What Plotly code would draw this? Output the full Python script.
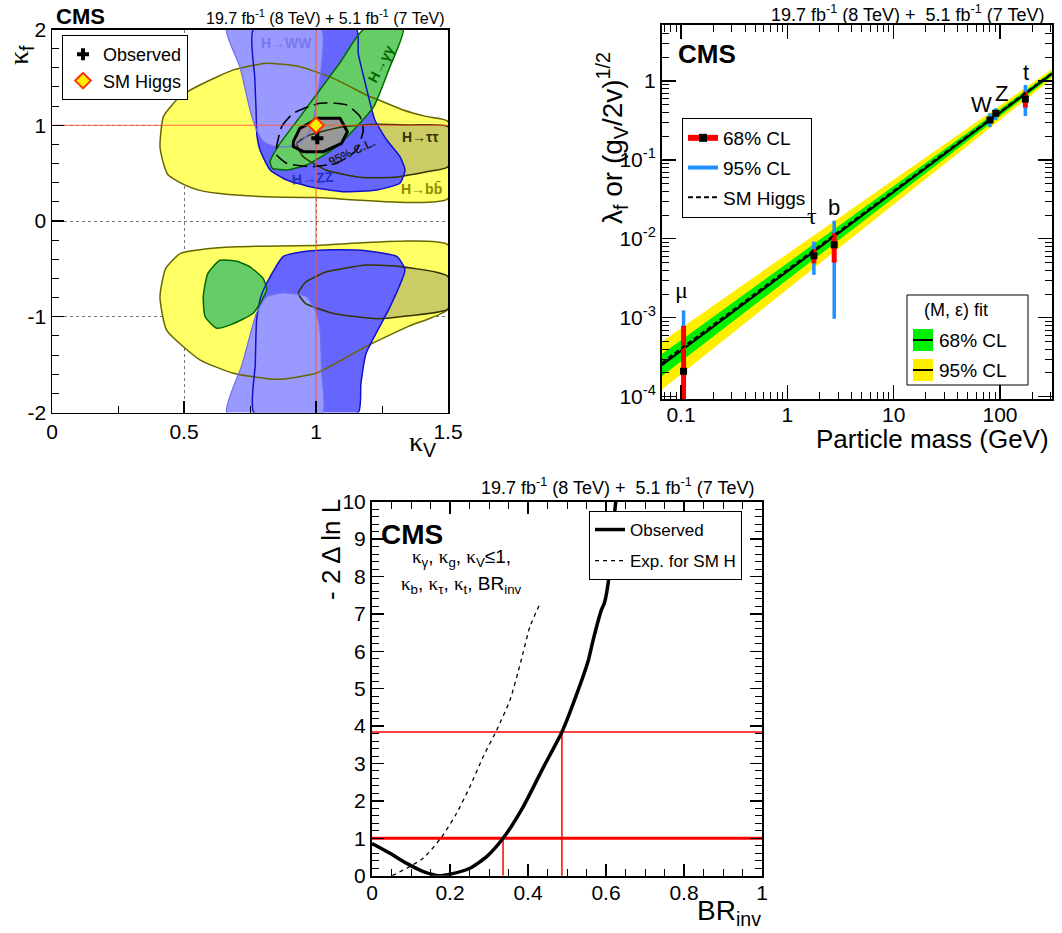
import plotly.graph_objects as go

W, H = 1062, 933
OFF = 0  # body margin removed via post_script
def fx(p): return (p - OFF) / W
def fy(p): return 1 - (p - OFF) / H

SANS = "Liberation Sans, Arial, Helvetica, sans-serif"
SERIF = "Liberation Serif, Times New Roman, serif"

# ================= Panel 1 data: (kappa_V, kappa_f) 68% CL regions =================
sm_kv, sm_kf = 1.0, 1.0
obs_kv, obs_kf = 1.005, 0.864

bb_up_kv = [1.5, 1.42, 1.33, 1.25, 1.19, 1.066, 0.94, 0.813, 0.687, 0.56, 0.485, 0.422, 0.409, 0.422, 0.44, 0.50, 0.56, 0.66, 0.81, 1.0, 1.5]
bb_up_kf = [1.04, 1.09, 1.16, 1.25, 1.317, 1.49, 1.612, 1.648, 1.578, 1.42, 1.30, 1.09, 0.776, 0.60, 0.48, 0.38, 0.32, 0.28, 0.254, 0.245, 0.235]
bb_lo_kv = [1.5, 1.0, 0.7, 0.56, 0.485, 0.43, 0.409, 0.434, 0.56, 0.687, 0.851, 1.0, 1.19, 1.35, 1.5]
bb_lo_kf = [-0.25, -0.255, -0.27, -0.30, -0.34, -0.50, -0.79, -1.14, -1.45, -1.59, -1.654, -1.59, -1.31, -1.10, -0.92]

tt_up_kv = [0.927, 0.977, 1.103, 1.23, 1.356, 1.5, 1.5, 1.419, 1.293, 1.167, 1.04, 0.952]
tt_up_kf = [0.81, 0.90, 0.985, 1.01, 1.003, 0.985, 0.567, 0.515, 0.456, 0.456, 0.53, 0.67]
tt_lo_kv = [0.933, 0.96, 1.04, 1.19, 1.30, 1.5, 1.5, 1.35, 1.23, 1.066, 0.96]
tt_lo_kf = [-0.756, -0.64, -0.53, -0.46, -0.47, -0.58, -0.92, -0.99, -1.02, -0.965, -0.86]

zz_up_kv = [0.763, 0.768, 0.773, 0.776, 0.788, 0.826, 0.889, 0.977, 1.103, 1.23, 1.318, 1.337, 1.318, 1.268, 1.223, 1.205, 1.19, 1.16, 1.154]
zz_up_kf = [2.0, 1.5, 1.16, 0.9, 0.742, 0.533, 0.428, 0.358, 0.306, 0.324, 0.394, 0.533, 0.672, 0.846, 1.055, 1.23, 1.40, 1.75, 2.0]
zz_lo_kv = [0.765, 0.77, 0.775, 0.79, 0.813, 0.876, 0.95, 1.066, 1.19, 1.306, 1.337, 1.28, 1.19, 1.17, 1.16]
zz_lo_kf = [-2.0, -1.5, -1.03, -0.80, -0.65, -0.37, -0.32, -0.30, -0.31, -0.37, -0.51, -0.90, -1.38, -1.70, -2.0]

ww_up_kv = [0.662, 0.712, 0.75, 0.775, 0.80, 0.84, 0.89, 0.94, 0.975, 1.0, 1.02, 1.021]
ww_up_kf = [2.0, 1.61, 1.16, 0.95, 0.83, 0.78, 0.775, 0.82, 0.93, 1.2, 1.6, 2.0]
ww_lo_kv = [0.662, 0.72, 0.775, 0.813, 0.876, 0.965, 1.0, 1.015, 1.022, 1.025]
ww_lo_kf = [-2.0, -1.5, -0.96, -0.79, -0.75, -0.79, -0.95, -1.14, -1.6, -2.0]

gg_up_kv = [1.18, 1.09, 1.015, 0.94, 0.864, 0.826, 0.835, 0.889, 0.965, 1.078, 1.154, 1.22, 1.28, 1.33]
gg_up_kf = [2.0, 1.65, 1.37, 1.09, 0.81, 0.62, 0.55, 0.533, 0.585, 0.776, 0.985, 1.20, 1.61, 2.0]
gg_lo_kv = [0.573, 0.59, 0.636, 0.70, 0.75, 0.80, 0.813, 0.763, 0.68, 0.624, 0.58]
gg_lo_kf = [-0.79, -0.55, -0.41, -0.42, -0.48, -0.60, -0.72, -0.96, -1.08, -1.12, -1.00]

comb68_kv = [0.914, 0.939, 1.009, 1.091, 1.119, 1.097, 1.028, 0.952, 0.914]
comb68_kf = [0.829, 0.968, 1.073, 1.073, 0.933, 0.812, 0.724, 0.724, 0.777]
comb95_kv = [0.851, 0.87, 0.914, 1.015, 1.116, 1.167, 1.179, 1.154, 1.078, 0.977, 0.889, 0.851]
comb95_kf = [0.776, 0.985, 1.125, 1.23, 1.212, 1.09, 0.951, 0.742, 0.603, 0.567, 0.603, 0.69]

# ================= Panel 2 data: reduced couplings vs particle mass =================
part_names = ["μ", "τ", "b", "W", "Z", "t"]
part_mass = [0.1057, 1.777, 2.76, 80.4, 91.19, 173.2]
part_val = [2.1e-4, 6.1e-3, 8.4e-3, 0.32, 0.39, 0.59]
part_lo68 = [9.0e-5, 4.9e-3, 5.0e-3, 0.30, 0.37, 0.46]
part_hi68 = [7.9e-4, 7.4e-3, 1.18e-2, 0.345, 0.415, 0.73]
part_lo95 = [8.0e-5, 3.5e-3, 9.7e-4, 0.26, 0.32, 0.36]
part_hi95 = [1.24e-3, 9.2e-3, 1.7e-2, 0.39, 0.45, 0.89]

band_mass = [0.066, 1.0, 10.0, 100.0, 308.0]
fit_val = [2.51e-4, 3.86e-3, 3.92e-2, 0.397, 1.23]
y95_lo = [1.23e-4, 2.31e-3, 2.73e-2, 0.321, 1.07]
y95_hi = [5.0e-4, 6.46e-3, 5.62e-2, 0.491, 1.41]
g68_lo = [1.82e-4, 3.03e-3, 3.30e-2, 0.358, 1.15]
g68_hi = [3.47e-4, 4.92e-3, 4.66e-2, 0.441, 1.32]
sm_val = [2.68e-4, 4.06e-3, 4.06e-2, 0.406, 1.251]

# ================= Panel 3 data: -2 Delta ln L vs BR_inv =================
br_obs = [0.0, 0.046, 0.089, 0.132, 0.172, 0.20, 0.251, 0.294, 0.336, 0.388, 0.44, 0.487, 0.53, 0.555, 0.567, 0.588, 0.596, 0.606, 0.615, 0.625]
nll_obs = [0.86, 0.60, 0.33, 0.11, 0.0, 0.04, 0.20, 0.51, 1.0, 1.85, 2.91, 3.84, 5.0, 5.77, 6.30, 7.1, 7.3, 7.86, 9.0, 10.0]
br_exp = [0.052, 0.089, 0.132, 0.179, 0.217, 0.251, 0.285, 0.32, 0.354, 0.381, 0.405, 0.431]
nll_exp = [0.0, 0.2, 0.47, 1.04, 1.67, 2.38, 3.18, 3.9, 4.70, 5.7, 6.66, 7.28]
cl_levels = [1.0, 3.84]
cl_limits = [0.336, 0.487]

fig = go.Figure()

def add_fill(kv, kf, color, smooth=True):
    fig.add_trace(go.Scatter(
        x=kv + [kv[0]], y=kf + [kf[0]], mode="lines", fill="toself", fillcolor=color,
        line=dict(width=0, shape="spline" if smooth else "linear", smoothing=0.5),
        xaxis="x", yaxis="y", showlegend=False, hoverinfo="skip"))

def add_outline(kv, kf, color, width, smooth=True, dash="solid"):
    fig.add_trace(go.Scatter(
        x=kv + [kv[0]], y=kf + [kf[0]], mode="lines",
        line=dict(width=width, color=color, dash=dash,
                  shape="spline" if smooth else "linear", smoothing=0.5),
        xaxis="x", yaxis="y", showlegend=False, hoverinfo="skip"))

C_BB, L_BB = "#ffff66", "#666600"
C_TT, L_TT = "#cccc66", "#333300"
C_ZZ, L_ZZ = "#6666ff", "#1111cc"
C_WW, L_WW = "#9999ff", "#7070ee"
C_GG, L_GG = "#66cc66", "#006600"

# fills
add_fill(bb_up_kv, bb_up_kf, C_BB)
add_fill(bb_lo_kv, bb_lo_kf, C_BB)
add_fill(tt_up_kv, tt_up_kf, C_TT)
add_fill(tt_lo_kv, tt_lo_kf, C_TT)
add_fill(zz_up_kv, zz_up_kf, C_ZZ)
add_fill(zz_lo_kv, zz_lo_kf, C_ZZ)
add_fill(ww_up_kv, ww_up_kf, C_WW)
add_fill(ww_lo_kv, ww_lo_kf, C_WW)
add_fill(gg_up_kv, gg_up_kf, C_GG)
add_fill(gg_lo_kv, gg_lo_kf, C_GG)
add_fill(comb68_kv, comb68_kf, "#999999", smooth=False)
# outlines
add_outline(bb_up_kv, bb_up_kf, L_BB, 1.5)
add_outline(bb_lo_kv, bb_lo_kf, L_BB, 1.5)
add_outline(tt_up_kv, tt_up_kf, L_TT, 1.5)
add_outline(tt_lo_kv, tt_lo_kf, L_TT, 1.5)
add_outline(zz_up_kv, zz_up_kf, L_ZZ, 1.5)
add_outline(zz_lo_kv, zz_lo_kf, L_ZZ, 1.5)
add_outline(ww_up_kv, ww_up_kf, L_WW, 1.3)
add_outline(ww_lo_kv, ww_lo_kf, L_WW, 1.3)
add_outline(gg_up_kv, gg_up_kf, L_GG, 1.5)
add_outline(gg_lo_kv, gg_lo_kf, L_GG, 1.5)
add_outline(comb68_kv, comb68_kf, "black", 3, smooth=False)
add_outline(comb95_kv, comb95_kf, "black", 1.6, dash="14px,6px")

# SM reference lines
RED1 = "rgba(255,85,40,0.85)"
fig.add_trace(go.Scatter(x=[sm_kv, sm_kv], y=[-2, 2], mode="lines", line=dict(color=RED1, width=1.2),
                         xaxis="x", yaxis="y", showlegend=False, hoverinfo="skip"))
fig.add_trace(go.Scatter(x=[0, 1.5], y=[sm_kf, sm_kf], mode="lines", line=dict(color=RED1, width=1.2),
                         xaxis="x", yaxis="y", showlegend=False, hoverinfo="skip"))
# markers
fig.add_trace(go.Scatter(x=[obs_kv], y=[obs_kf], mode="markers", name="Observed",
                         marker=dict(symbol="cross", size=10, color="black", line=dict(width=0)),
                         xaxis="x", yaxis="y", legend="legend", hoverinfo="skip"))
fig.add_trace(go.Scatter(x=[sm_kv], y=[sm_kf], mode="markers", name="SM Higgs",
                         marker=dict(symbol="diamond", size=12, color="#ffee00", line=dict(width=2, color="#ff3300")),
                         xaxis="x", yaxis="y", legend="legend", hoverinfo="skip"))

# ================= Panel 2 traces =================
YEL, GRN, BLU = "#ffee00", "#00ee00", "#1e90ff"
fig.add_trace(go.Scatter(x=band_mass, y=y95_lo, mode="lines", line=dict(width=0), xaxis="x2", yaxis="y2",
                         showlegend=False, hoverinfo="skip"))
fig.add_trace(go.Scatter(x=band_mass, y=y95_hi, mode="lines", line=dict(width=0), fill="tonexty", fillcolor=YEL,
                         xaxis="x2", yaxis="y2", showlegend=False, hoverinfo="skip"))
fig.add_trace(go.Scatter(x=band_mass, y=g68_lo, mode="lines", line=dict(width=0), xaxis="x2", yaxis="y2",
                         showlegend=False, hoverinfo="skip"))
fig.add_trace(go.Scatter(x=band_mass, y=g68_hi, mode="lines", line=dict(width=0), fill="tonexty", fillcolor=GRN,
                         xaxis="x2", yaxis="y2", showlegend=False, hoverinfo="skip"))
fig.add_trace(go.Scatter(x=band_mass, y=fit_val, mode="lines", line=dict(width=2, color="black"),
                         xaxis="x2", yaxis="y2", showlegend=False, hoverinfo="skip"))

def seg(xs, lo, hi):
    X, Y = [], []
    for x, a, b in zip(xs, lo, hi):
        X += [x, x, None]
        Y += [a, b, None]
    return X, Y

bx, by = seg(part_mass, part_lo95, part_hi95)
fig.add_trace(go.Scatter(x=bx, y=by, mode="lines", line=dict(width=3.5, color=BLU), xaxis="x2", yaxis="y2",
                         showlegend=False, hoverinfo="skip"))
rx, ry = seg(part_mass, part_lo68, part_hi68)
fig.add_trace(go.Scatter(x=rx, y=ry, mode="lines", line=dict(width=5, color="#ff0000"), xaxis="x2", yaxis="y2",
                         showlegend=False, hoverinfo="skip"))
fig.add_trace(go.Scatter(x=part_mass, y=part_val, mode="markers", marker=dict(symbol="square", size=7, color="black"),
                         xaxis="x2", yaxis="y2", showlegend=False, hoverinfo="skip"))
fig.add_trace(go.Scatter(x=band_mass, y=sm_val, mode="lines", line=dict(width=2, color="black", dash="5px,3px"),
                         xaxis="x2", yaxis="y2", showlegend=False, hoverinfo="skip"))
# legend entries panel 2
fig.add_trace(go.Scatter(x=[None], y=[None], mode="lines+markers", name="68% CL",
                         line=dict(width=6, color="#ff0000"), marker=dict(symbol="square", size=8, color="black"),
                         xaxis="x2", yaxis="y2", legend="legend2", legendgroup="a"))
fig.add_trace(go.Scatter(x=[None], y=[None], mode="lines", name="95% CL",
                         line=dict(width=4, color=BLU), xaxis="x2", yaxis="y2", legend="legend2", legendgroup="b"))
fig.add_trace(go.Scatter(x=[None], y=[None], mode="lines", name="SM Higgs",
                         line=dict(width=2, color="black", dash="5px,3px"), xaxis="x2", yaxis="y2",
                         legend="legend2", legendgroup="c"))

# ================= Panel 3 traces =================
for lvl, w in zip(cl_levels, [3, 1.5]):
    fig.add_trace(go.Scatter(x=[0, 1], y=[lvl, lvl], mode="lines", line=dict(color="#ff0000", width=w),
                             xaxis="x3", yaxis="y3", showlegend=False, hoverinfo="skip"))
for lim, lvl in zip(cl_limits, cl_levels):
    fig.add_trace(go.Scatter(x=[lim, lim], y=[0, lvl], mode="lines", line=dict(color="#ff0000", width=1.5),
                             xaxis="x3", yaxis="y3", showlegend=False, hoverinfo="skip"))
fig.add_trace(go.Scatter(x=br_obs, y=nll_obs, mode="lines", name="Observed",
                         line=dict(color="black", width=3.5, shape="spline", smoothing=0.6),
                         xaxis="x3", yaxis="y3", legend="legend3", legendgroup="d"))
fig.add_trace(go.Scatter(x=br_exp, y=nll_exp, mode="lines", name="Exp. for SM H",
                         line=dict(color="black", width=1.3, dash="4px,4px", shape="spline", smoothing=0.6),
                         xaxis="x3", yaxis="y3", legend="legend3", legendgroup="e"))

# ================= Axes =================
tick_font = dict(family=SANS, size=21, color="black")
common = dict(showline=True, linecolor="black", ticks="inside", tickcolor="black", zeroline=False,
              tickfont=tick_font, showgrid=False, automargin=False)

fig.update_layout(
    template="none",
    width=W, height=H, margin=dict(l=0, r=0, t=0, b=0, autoexpand=False),
    paper_bgcolor="white", plot_bgcolor="white", font=dict(family=SANS, color="black"),
    hovermode=False,
    xaxis=dict(common, domain=[fx(52), fx(448)], range=[0, 1.5], anchor="y", mirror=True, linewidth=1.5,
               tickmode="array", tickvals=[0, 0.5, 1, 1.5], ticktext=["0", "0.5", "1", "1.5"],
               ticklen=12, tickwidth=1.2, showgrid=True, griddash="dot", gridcolor="#777777", gridwidth=1,
               minor=dict(ticks="inside", ticklen=7, tickcolor="black", tickwidth=1, tickmode="linear",
                          tick0=0, dtick=0.25, showgrid=False)),
    yaxis=dict(common, domain=[fy(412.5), fy(29.5)], range=[-2, 2], anchor="x", mirror=True, linewidth=1.5,
               tickmode="array", tickvals=[-2, -1, 0, 1, 2], ticktext=["-2", "-1", "0", "1", "2"],
               ticklen=12, tickwidth=1.2, showgrid=True, griddash="dot", gridcolor="#777777", gridwidth=1,
               minor=dict(ticks="inside", ticklen=7, tickcolor="black", tickwidth=1, tickmode="linear",
                          tick0=0, dtick=0.2, showgrid=False)),
    xaxis2=dict(common, type="log", domain=[fx(662), fx(1052)], range=[-1.1787, 2.489], anchor="y2",
                mirror="allticks", linewidth=2, tickmode="array", tickvals=[0.1, 1, 10, 100],
                ticktext=["0.1", "1", "10", "100"], ticklen=14, tickwidth=1.2, ticklabelstandoff=-4,
                minor=dict(ticks="inside", ticklen=7, tickcolor="black", tickwidth=1, tickmode="linear", dtick="D1")),
    yaxis2=dict(common, type="log", domain=[fy(399), fy(25)], range=[-4.029, 0.709], anchor="x2",
                mirror="allticks", linewidth=2, tickmode="array", tickvals=[1e-4, 1e-3, 1e-2, 1e-1, 1],
                ticktext=["10<sup>-4</sup>", "10<sup>-3</sup>", "10<sup>-2</sup>", "10<sup>-1</sup>", "1"],
                ticklen=14, tickwidth=1.2,
                minor=dict(ticks="inside", ticklen=7, tickcolor="black", tickwidth=1, tickmode="linear", dtick="D1")),
    xaxis3=dict(common, domain=[fx(372), fx(762)], range=[0, 1], anchor="y3", mirror="allticks", linewidth=2,
                tickmode="array", tickvals=[0, 0.2, 0.4, 0.6, 0.8, 1], ticktext=["0", "0.2", "0.4", "0.6", "0.8", "1"],
                ticklen=12, tickwidth=1.2, ticklabelstandoff=-3,
                minor=dict(ticks="inside", ticklen=7, tickcolor="black", tickwidth=1, tickmode="linear",
                           tick0=0, dtick=0.05)),
    yaxis3=dict(common, domain=[fy(875.7), fy(501.7)], range=[0, 10], anchor="x3", mirror="allticks", linewidth=2,
                tickmode="array", tickvals=list(range(11)), ticktext=[str(i) for i in range(11)],
                ticklen=12, tickwidth=1.2,
                minor=dict(ticks="inside", ticklen=7, tickcolor="black", tickwidth=1, tickmode="linear",
                           tick0=0, dtick=0.2)),
    legend=dict(x=fx(62), y=fy(35), xanchor="left", yanchor="top", bgcolor="white", bordercolor="black",
                borderwidth=1, font=dict(family=SANS, size=18), traceorder="normal"),
    legend2=dict(x=fx(682), y=fy(118), xanchor="left", yanchor="top", bgcolor="white", bordercolor="black",
                 borderwidth=1, font=dict(family=SANS, size=19), tracegroupgap=2, traceorder="grouped"),
    legend3=dict(x=fx(589), y=fy(511), xanchor="left", yanchor="top", bgcolor="white", bordercolor="black",
                 borderwidth=1, font=dict(family=SANS, size=17), tracegroupgap=6, traceorder="grouped"),
)

# ================= Text annotations =================
anns = []
def ann(text, x, y, size, xanchor="center", yanchor="middle", angle=0, color="black", family=SANS):
    anns.append(dict(text=text, x=fx(x), y=fy(y), xref="paper", yref="paper", xanchor=xanchor, yanchor=yanchor,
                     textangle=angle, showarrow=False, font=dict(family=family, size=size, color=color)))

def kap(sub):
    return "<span style='font-family:Liberation Serif'>κ</span><sub>%s</sub>" % sub

LUMI = "19.7 fb<sup>-1</sup> (8 TeV) + 5.1 fb<sup>-1</sup> (7 TeV)"
LUMI2 = "19.7 fb<sup>-1</sup> (8 TeV) +  5.1 fb<sup>-1</sup> (7 TeV)"

# panel 1
ann("<b>CMS</b>", 54, 17, 22, xanchor="left")
ann(LUMI, 447, 17, 16, xanchor="right")
ann(kap("f"), 20, 55, 28, angle=-90)
ann(kap("V"), 422, 443, 28)
# panel 2
ann("<b>CMS</b>", 676, 54, 26, xanchor="left")
ann(LUMI2, 1046, 13, 18, xanchor="right")
ann("λ<sub>f</sub> or (g<sub>V</sub>/2v)<sup>1/2</sup>", 612, 138, 28, angle=-90)
ann("Particle mass (GeV)", 1051, 439, 26, xanchor="right")
for name, (px_, py_) in zip(part_names, [(681, 290), (812, 216), (833.5, 207), (981.7, 105), (1001.7, 94), (1026, 72)]):
    ann(name, px_, py_, 24 if name in ("μ", "τ") else 22, family=SERIF if name in ("μ", "τ") else SANS)
# (M, eps) legend
ann("(M, ε) fit", 956, 310, 18)
ann("68% CL", 937, 340, 19, xanchor="left")
ann("95% CL", 937, 370, 19, xanchor="left")
# panel 3
ann("<b>CMS</b>", 379, 534, 28, xanchor="left")
ann(LUMI2, 756, 487, 18, xanchor="right")
ann(kap("γ") + ", " + kap("g") + ", " + kap("V") + "≤1,", 461, 558, 19)
ann(kap("b") + ", " + kap("τ") + ", " + kap("t") + ", BR<sub>inv</sub>", 461, 585, 19)
ann("- 2 Δ ln L", 331, 550, 26, angle=-90)
ann("BR<sub>inv</sub>", 763, 912, 28, xanchor="right")

# contour labels (panel 1), placed in data coordinates
def lab(text, kv, kf, color, size=14, angle=0):
    anns.append(dict(text=text, x=kv, y=kf, xref="x", yref="y", showarrow=False, textangle=angle,
                     font=dict(family=SANS, size=size, color=color)))
lab("<b>H→WW</b>", 0.89, 1.86, "#7777ee")
lab("<b>H→γγ</b>", 1.245, 1.64, "#006600", angle=-62)
lab("<b>H→ττ</b>", 1.395, 0.88, "#333300")
lab("<b>H→bb̄</b>", 1.40, 0.34, "#8c8c00")
lab("<b>H→ZZ</b>", 0.99, 0.445, "#2233bb", angle=-4)
lab("<b>95% C.L.</b>", 1.135, 0.72, "#222233", size=12, angle=-25)

fig.update_layout(annotations=anns)

# manual (M, eps) fit legend box
shapes = [
    dict(type="rect", xref="paper", yref="paper", x0=fx(907), x1=fx(1028), y0=fy(385), y1=fy(295),
         line=dict(color="black", width=1), fillcolor="white"),
    dict(type="rect", xref="paper", yref="paper", x0=fx(913), x1=fx(933), y0=fy(351), y1=fy(329),
         line=dict(width=0), fillcolor=GRN),
    dict(type="line", xref="paper", yref="paper", x0=fx(913), x1=fx(933), y0=fy(340), y1=fy(340),
         line=dict(color="black", width=2)),
    dict(type="rect", xref="paper", yref="paper", x0=fx(913), x1=fx(933), y0=fy(381), y1=fy(359),
         line=dict(width=0), fillcolor=YEL),
    dict(type="line", xref="paper", yref="paper", x0=fx(913), x1=fx(933), y0=fy(370), y1=fy(370),
         line=dict(color="black", width=2)),
]
fig.update_layout(shapes=shapes)

fig.write_html("out.html", config={"displayModeBar": False, "staticPlot": True},
               post_script="document.body.style.margin='0px';document.body.style.padding='0px';")
